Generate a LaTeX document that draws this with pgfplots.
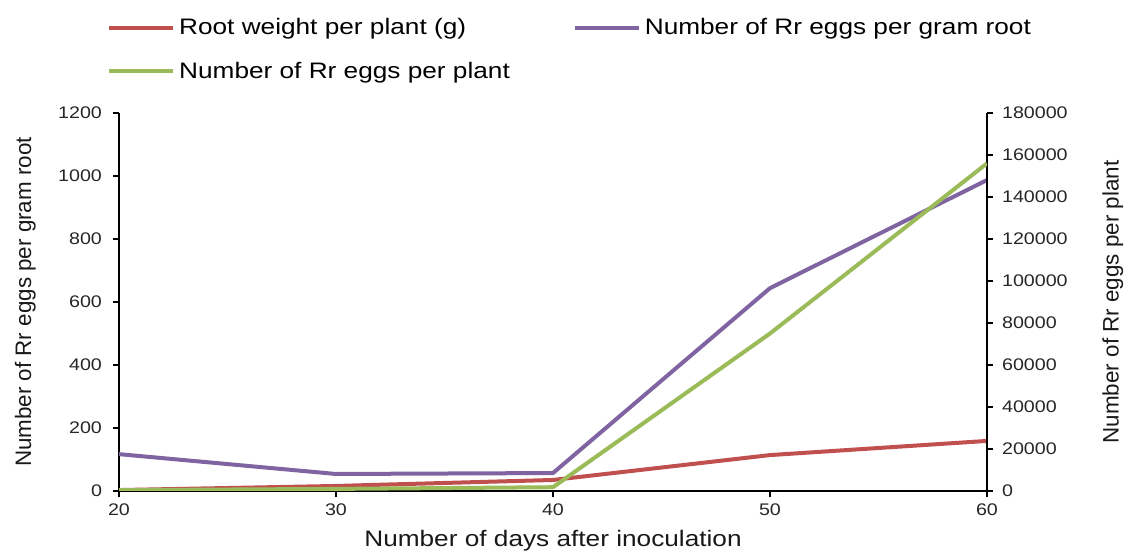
\documentclass[border=0pt]{standalone}
\usepackage{pgfplots}
\pgfplotsset{compat=1.18}
\usepackage{fontspec}
\setmainfont{Liberation Sans}[FakeStretch=1.17]
\newfontfamily\plainsans{Liberation Sans}
\definecolor{rootred}{HTML}{C0504D}
\definecolor{eggpurple}{HTML}{8064A2}
\definecolor{egggreen}{HTML}{9BBB59}

\pgfplotsset{
  common/.style={
    scale only axis, width=434pt, height=189pt,
    xmin=20, xmax=60,
    tick align=outside, major tick length=3pt,
    tick style={black, line width=1pt},
    axis line style={black, line width=1.4pt},
    tick label style={font=\fontsize{8.4}{10}\selectfont, text=black!85},
    label style={font=\fontsize{11.2}{13}\selectfont, text=black!90},
    ylabel style={font=\plainsans\fontsize{11.2}{13}\selectfont},
    /pgf/number format/fixed,
    /pgf/number format/assume math mode=true,
    /pgf/number format/set thousands separator={},
    scaled y ticks=false,
    every axis plot/.append style={line width=2pt, line join=round, mark=none},
  },
}

\begin{document}
\begin{tikzpicture}
  % left axis: root weight and eggs per gram root
  \begin{axis}[common,
      axis x line*=bottom, axis y line*=left,
      xtick={20,30,40,50,60},
      ymin=0, ymax=1200, ytick={0,200,...,1200},
      yticklabel style={xshift=-2pt},
      xlabel={Number of days after inoculation},
      ylabel={Number of Rr eggs per gram root},
      xlabel style={at={(axis description cs:0.5,-0.132)}, anchor=center},
      ylabel style={at={(axis description cs:-0.108,0.5)}, anchor=center},
    ]
    \addplot[rootred] coordinates {(20,3) (30,16) (40,35) (50,114) (60,159)};
    \addplot[eggpurple] coordinates {(20,117) (30,54) (40,57) (50,644) (60,987)};
  \end{axis}
  % right axis: eggs per plant
  \begin{axis}[common,
      axis x line=none, axis y line*=right,
      ymin=0, ymax=180000, ytick={0,20000,...,180000},
      yticklabel style={xshift=1pt},
      ylabel={Number of Rr eggs per plant},
      ylabel style={at={(axis description cs:1.145,0.5)}, anchor=center},
      legend columns=2,
      legend cell align=left,
      legend style={draw=none, fill=none, at={(-0.021,1.272)}, anchor=north west,
        font=\fontsize{11.2}{13}\selectfont,
        row sep=8pt,
        /tikz/every even column/.append style={column sep=29.5pt}},
      legend image code/.code={\draw[#1, line width=2pt] (0pt,0pt) -- (32pt,0pt);},
    ]
    \addlegendimage{rootred}
    \addlegendentry{Root weight per plant (g)}
    \addlegendimage{eggpurple}
    \addlegendentry{Number of Rr eggs per gram root}
    \addplot[egggreen] coordinates {(20,400) (30,1000) (40,1800) (50,75000) (60,156000)};
    \addlegendentry{Number of Rr eggs per plant}
  \end{axis}
  \pgfresetboundingbox
  \useasboundingbox (-59.5pt,-30pt) rectangle (502.5pt,245.5pt);
\end{tikzpicture}
\end{document}
